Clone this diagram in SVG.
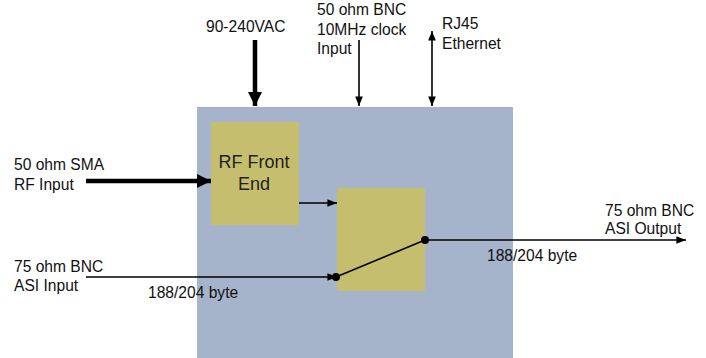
<svg xmlns="http://www.w3.org/2000/svg" width="706" height="358" viewBox="0 0 706 358">
<style>
text{font-family:"Liberation Sans",Arial,sans-serif;font-size:15.6px;fill:#111}
.big{font-size:18px;fill:#222}
.thin{stroke:#000;stroke-width:1.6;fill:none}
.thick{stroke:#000;stroke-width:4.5;fill:none}
</style>
<defs>
<marker id="ah" viewBox="0 0 10 10" refX="10" refY="5" markerWidth="6" markerHeight="6" orient="auto-start-reverse" markerUnits="strokeWidth"><path d="M0,1 L10,5 L0,9 z" fill="#000"/></marker>
<marker id="ahT" viewBox="0 0 10 10" refX="10" refY="5" markerWidth="3.2" markerHeight="3.4" orient="auto" markerUnits="strokeWidth"><path d="M0,0 L10,5 L0,10 z" fill="#000"/></marker>
</defs>
<g id="enclosure"><rect x="197" y="107" width="316" height="251" fill="#A5B3CB"/></g>
<g id="rf-front-end"><rect x="211" y="122" width="88" height="103" fill="#C6BE6F"/>
<text class="big" x="254" y="168" text-anchor="middle">RF Front</text>
<text class="big" x="254" y="190" text-anchor="middle">End</text></g>
<g id="switch"><rect x="337" y="188" width="88" height="103" fill="#C6BE6F"/></g>
<g id="labels">
<text x="206" y="32">90-240VAC</text>
<text x="317" y="15">50 ohm BNC</text>
<text x="317" y="35">10MHz clock</text>
<text x="317" y="54">Input</text>
<text x="442" y="29">RJ45</text>
<text x="442" y="49">Ethernet</text>
<text x="14" y="170">50 ohm SMA</text>
<text x="14" y="190">RF Input</text>
<text x="14" y="272">75 ohm BNC</text>
<text x="14" y="291">ASI Input</text>
<text x="148" y="298">188/204 byte</text>
<text x="605" y="216">75 ohm BNC</text>
<text x="605" y="234">ASI Output</text>
<text x="487" y="261">188/204 byte</text>
</g>
<g id="connectors">
<line class="thick" x1="255" y1="40" x2="255" y2="106" marker-end="url(#ahT)"/>
<line class="thin" x1="359" y1="40" x2="359" y2="106" marker-end="url(#ah)"/>
<line class="thin" x1="432" y1="31" x2="432" y2="106" marker-start="url(#ah)" marker-end="url(#ah)"/>
<line class="thick" x1="86" y1="181" x2="211" y2="181" marker-end="url(#ahT)"/>
<line class="thin" x1="299" y1="203" x2="337" y2="203" marker-end="url(#ah)"/>
<line class="thin" x1="86" y1="277" x2="337" y2="277" marker-end="url(#ah)"/>
<line class="thin" x1="336" y1="277" x2="425" y2="240"/>
<line class="thin" x1="425" y1="240" x2="686" y2="240" stroke-width="2" marker-end="url(#ah)"/>
<circle cx="336" cy="277" r="4" fill="#000"/>
<circle cx="425" cy="240" r="4" fill="#000"/>
</g>
</svg>
